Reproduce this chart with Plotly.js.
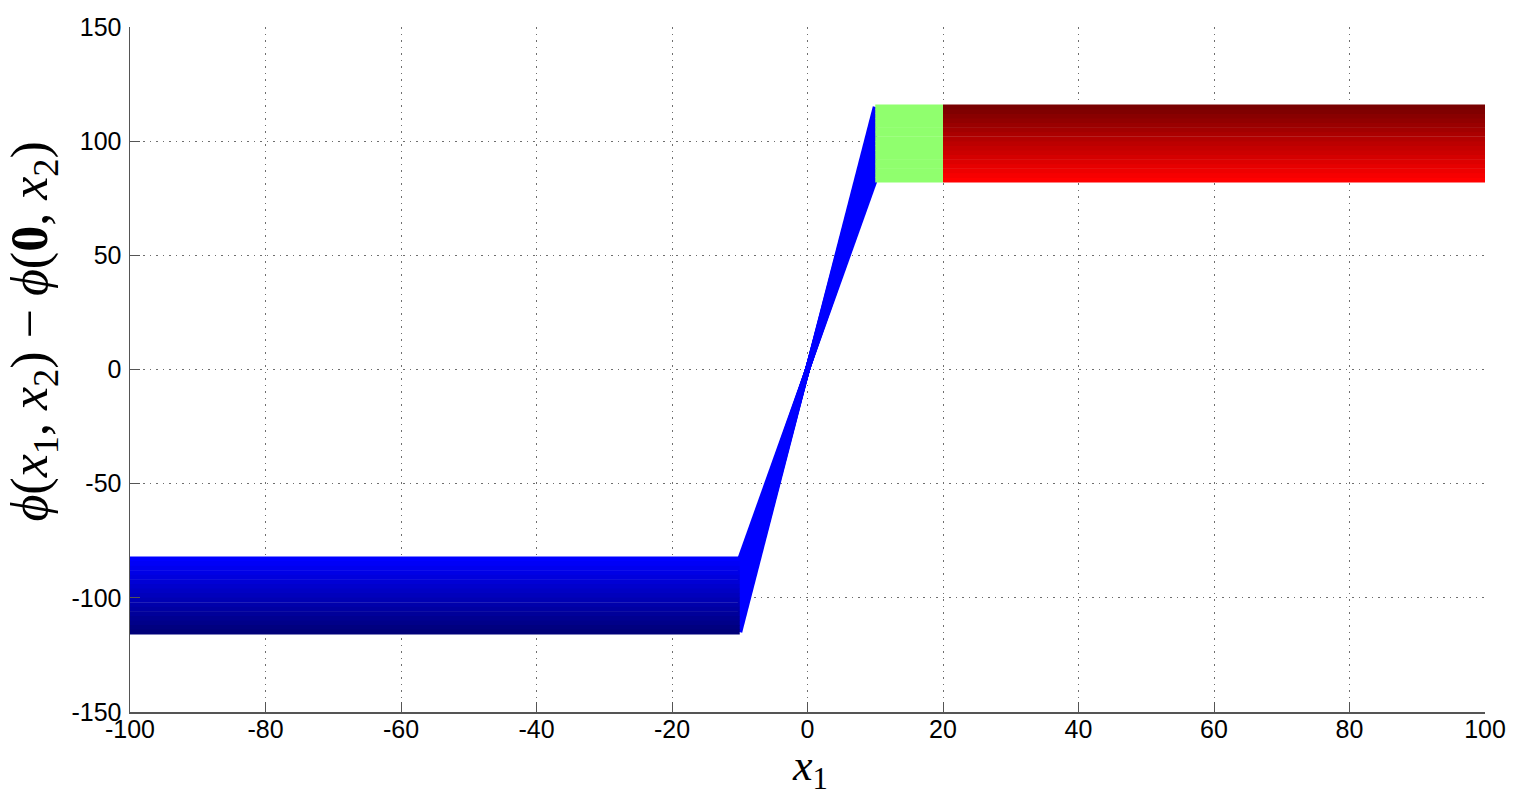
<!DOCTYPE html>
<html>
<head>
<meta charset="utf-8">
<script src="https://cdn.plot.ly/plotly-3.0.1.min.js"></script>
<style>
  html, body { margin: 0; padding: 0; background: #fff; }
  #plotArea { width: 1515px; height: 795px; }
</style>
</head>
<body>
<div id="plotArea"></div>
<script>
// 每条曲线对应一个 x2，平台高度 c = phi 的饱和值
const levels = [83, 85, 87, 89, 91, 93, 95, 97, 99, 101, 103, 105, 107, 109, 111, 113, 115];
// 分段点：左平台起点、斜坡起点、斜坡终点、绿段终点、右端
const xBreaks = [-100, -10, 10, 20, 100];
const xTicks = [-100, -80, -60, -40, -20, 0, 20, 40, 60, 80, 100];
const yTicks = [-150, -100, -50, 0, 50, 100, 150];

const cMin = Math.min(...levels);
const cMax = Math.max(...levels);
// 颜色：c 越大越暗
function shade(c) {
  const t = (c - cMin) / (cMax - cMin);
  return Math.round(255 - t * 135);
}

const traces = [];
const LW = 5;
const line = (x, y, color) => ({
  x, y,
  mode: 'lines',
  type: 'scatter',
  line: { color, width: LW },
  hoverinfo: 'skip'
});

// 斜坡：-10 ~ 10，亮蓝
levels.forEach(c => {
  traces.push(line([xBreaks[1], xBreaks[2]], [-c, c], 'rgb(0,0,255)'));
});
// 左平台：-100 ~ -10，蓝色渐变
levels.forEach(c => {
  traces.push(line([xBreaks[0], xBreaks[1]], [-c, -c], `rgb(0,0,${shade(c)})`));
});
// 绿色：10 ~ 20
levels.forEach(c => {
  traces.push(line([xBreaks[2], xBreaks[3]], [c, c], 'rgb(144,255,110)'));
});
// 红色：20 ~ 100
levels.forEach(c => {
  traces.push(line([xBreaks[3], xBreaks[4]], [c, c], `rgb(${shade(c)},0,0)`));
});

const axisCommon = {
  showgrid: true,
  gridcolor: '#6e6e6e',
  griddash: '1.5px,5px',
  gridwidth: 1,
  zeroline: false,
  showline: true,
  linecolor: '#555',
  linewidth: 1.5,
  ticks: 'inside',
  ticklen: 10,
  tickcolor: '#555',
  tickfont: { family: 'Liberation Sans, Arial, sans-serif', size: 25, color: '#000' },
  mirror: false
};

const serif = 'Liberation Serif, Times New Roman, serif';

const layout = {
  width: 1515,
  height: 795,
  margin: { l: 130, r: 30, t: 27, b: 83 },
  paper_bgcolor: '#fff',
  plot_bgcolor: '#fff',
  showlegend: false,
  xaxis: Object.assign({}, axisCommon, {
    range: [-100, 100],
    tickvals: xTicks,
    ticktext: xTicks.map(String),
    ticklabelstandoff: -6
  }),
  yaxis: Object.assign({}, axisCommon, {
    range: [-150, 150],
    tickvals: yTicks,
    ticktext: yTicks.map(String),
    ticklabelstandoff: 2
  }),
  annotations: [
    {
      text: '<i>x</i><sub>1</sub>',
      xref: 'paper', yref: 'paper',
      x: 0.502, y: -0.082,
      xanchor: 'center', yanchor: 'middle',
      showarrow: false,
      font: { family: serif, size: 44, color: '#000' }
    },
    {
      text: '<i>ϕ</i>(<i>x</i><sub>1</sub>, <i>x</i><sub>2</sub>) − <i>ϕ</i>(<b>0</b>, <i>x</i><sub>2</sub>)',
      xref: 'paper', yref: 'paper',
      x: -0.071, y: 0.555,
      xanchor: 'center', yanchor: 'middle',
      textangle: -90,
      showarrow: false,
      font: { family: serif, size: 52, color: '#000' }
    }
  ]
};

Plotly.newPlot('plotArea', traces, layout, { staticPlot: true });
</script>
</body>
</html>
